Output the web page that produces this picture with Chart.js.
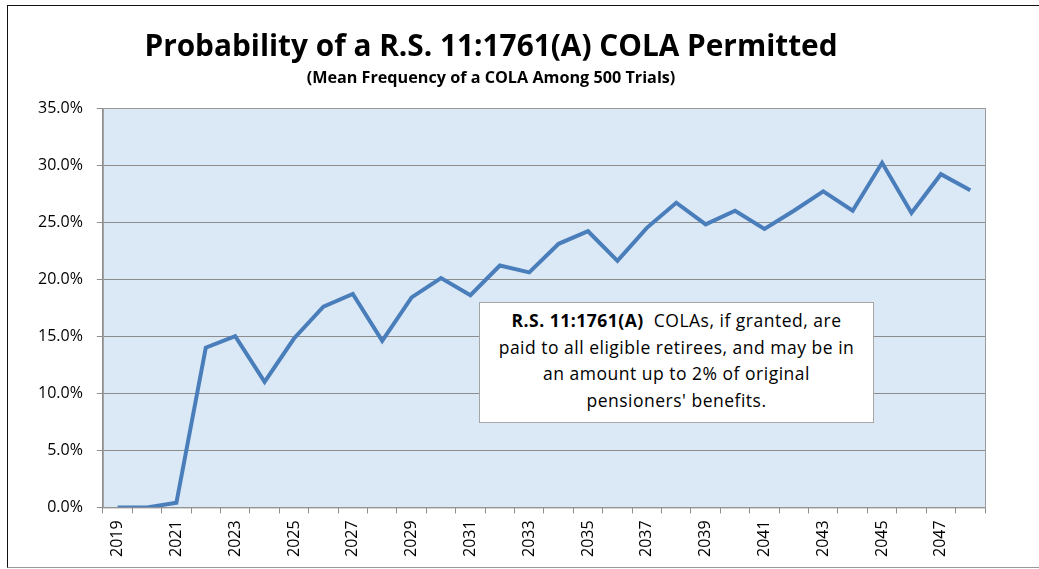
<!DOCTYPE html>
<html>
<head>
<meta charset="utf-8">
<script src="https://cdn.jsdelivr.net/npm/chart.js@4"></script>
<style>
	body { margin: 0; background: #fff; }
	#wrap { position: relative; width: 1039px; height: 569px; overflow: hidden; font-family: 'Open Sans', Lato, sans-serif; }
	#frame { position: absolute; left: 7px; top: 5px; width: 1040px; height: 561px; border: 1px solid #111; border-bottom-color: #999; }
	#chart { position: absolute; left: 0; top: 0; }
	.title { position: absolute; left: 0; width: 982px; text-align: center; font-weight: bold; color: #000; white-space: nowrap; line-height: normal; }
	#t1 { top: 24px; font-size: 29.8px; }
	#t2 { top: 66px; font-size: 16.2px; }
	#note { position: absolute; left: 479px; top: 302px; width: 393px; height: 115px; background: #fff; border: 1px solid #a6a6a6;
		text-align: center; font-size: 17.5px; letter-spacing: 0.5px; line-height: 26.5px; padding-top: 4px; color: #000; white-space: nowrap; }
</style>
</head>
<body>
<div id="wrap">
	<div id="frame"></div>
	<canvas id="chart" width="1039" height="569"></canvas>
	<div class="title" id="t1"></div>
	<div class="title" id="t2"></div>
	<div id="note"><b>R.S. 11:1761(A)</b>&nbsp; COLAs, if granted, are<br>paid to all eligible retirees, and may be in<br>an amount up to 2% of original<br>pensioners' benefits.</div>
</div>
<script>
const chartTitle = 'Probability of a R.S. 11:1761(A) COLA Permitted'
const chartSubtitle = '(Mean Frequency of a COLA Among 500 Trials)'

const years = ['2019', '2020', '2021', '2022', '2023', '2024', '2025', '2026', '2027', '2028',
	'2029', '2030', '2031', '2032', '2033', '2034', '2035', '2036', '2037', '2038',
	'2039', '2040', '2041', '2042', '2043', '2044', '2045', '2046', '2047', '2048']
const colaProb = [0.0, 0.0, 0.4, 14.0, 15.0, 11.0, 14.8, 17.6, 18.7, 14.6,
	18.4, 20.1, 18.6, 21.2, 20.6, 23.1, 24.2, 21.6, 24.5, 26.7,
	24.8, 26.0, 24.4, 26.0, 27.7, 26.0, 30.2, 25.8, 29.2, 27.8]
const yTicks = [0, 5, 10, 15, 20, 25, 30, 35]

document.getElementById('t1').textContent = chartTitle
document.getElementById('t2').textContent = chartSubtitle

/* plot area background and border */
const plotBg = {
	id: 'plotBg',
	beforeDraw(chart) {
		const a = chart.chartArea
		const ctx = chart.ctx
		ctx.save()
		ctx.fillStyle = '#dbe8f6'
		ctx.fillRect(a.left, a.top, a.right - a.left, a.bottom - a.top)
		ctx.restore()
	},
	afterDraw(chart) {
		const a = chart.chartArea
		const ctx = chart.ctx
		ctx.save()
		ctx.strokeStyle = '#9a9a9a'
		ctx.lineWidth = 1
		ctx.strokeRect(a.left + 0.5, a.top + 0.5, a.right - a.left, a.bottom - a.top)
		ctx.restore()
	}
}

const data = {
	labels: years,
	datasets: [{
		label: 'COLA probability',
		data: colaProb,
		borderColor: '#4a7ebb',
		borderWidth: 4,
		pointRadius: 0,
		tension: 0,
		fill: false
	}]
}

const config = {
	type: 'line',
	data: data,
	options: {
		responsive: false,
		animation: false,
		layout: {
			padding: { top: 108, right: 54, bottom: 5, left: 24 }
		},
		plugins: {
			legend: { display: false },
			tooltip: { enabled: false }
		},
		scales: {
			x: {
				offset: true,
				grid: {
					offset: true,
					drawOnChartArea: false,
					color: '#8c8c8c',
					tickLength: 6
				},
				border: { color: '#8c8c8c' },
				ticks: {
					autoSkip: false,
					maxRotation: 90,
					minRotation: 90,
					padding: 7,
					color: '#000',
					font: { family: 'Open Sans', size: 16 },
					callback: function(v, i) {
						return i % 2 === 0 ? years[i] : ''
					}
				}
			},
			y: {
				min: 0,
				max: 35,
				afterBuildTicks: function(axis) {
					axis.ticks = yTicks.map(v => ({ value: v }))
				},
				grid: {
					color: '#8c8c8c',
					tickLength: 6
				},
				border: { color: '#8c8c8c' },
				ticks: {
					padding: 14,
					color: '#000',
					font: { family: 'Open Sans', size: 16 },
					callback: v => v.toFixed(1) + '%'
				}
			}
		}
	},
	plugins: [plotBg]
}

let ctx = document.getElementById('chart')
new Chart(ctx, config)
</script>
</body>
</html>
